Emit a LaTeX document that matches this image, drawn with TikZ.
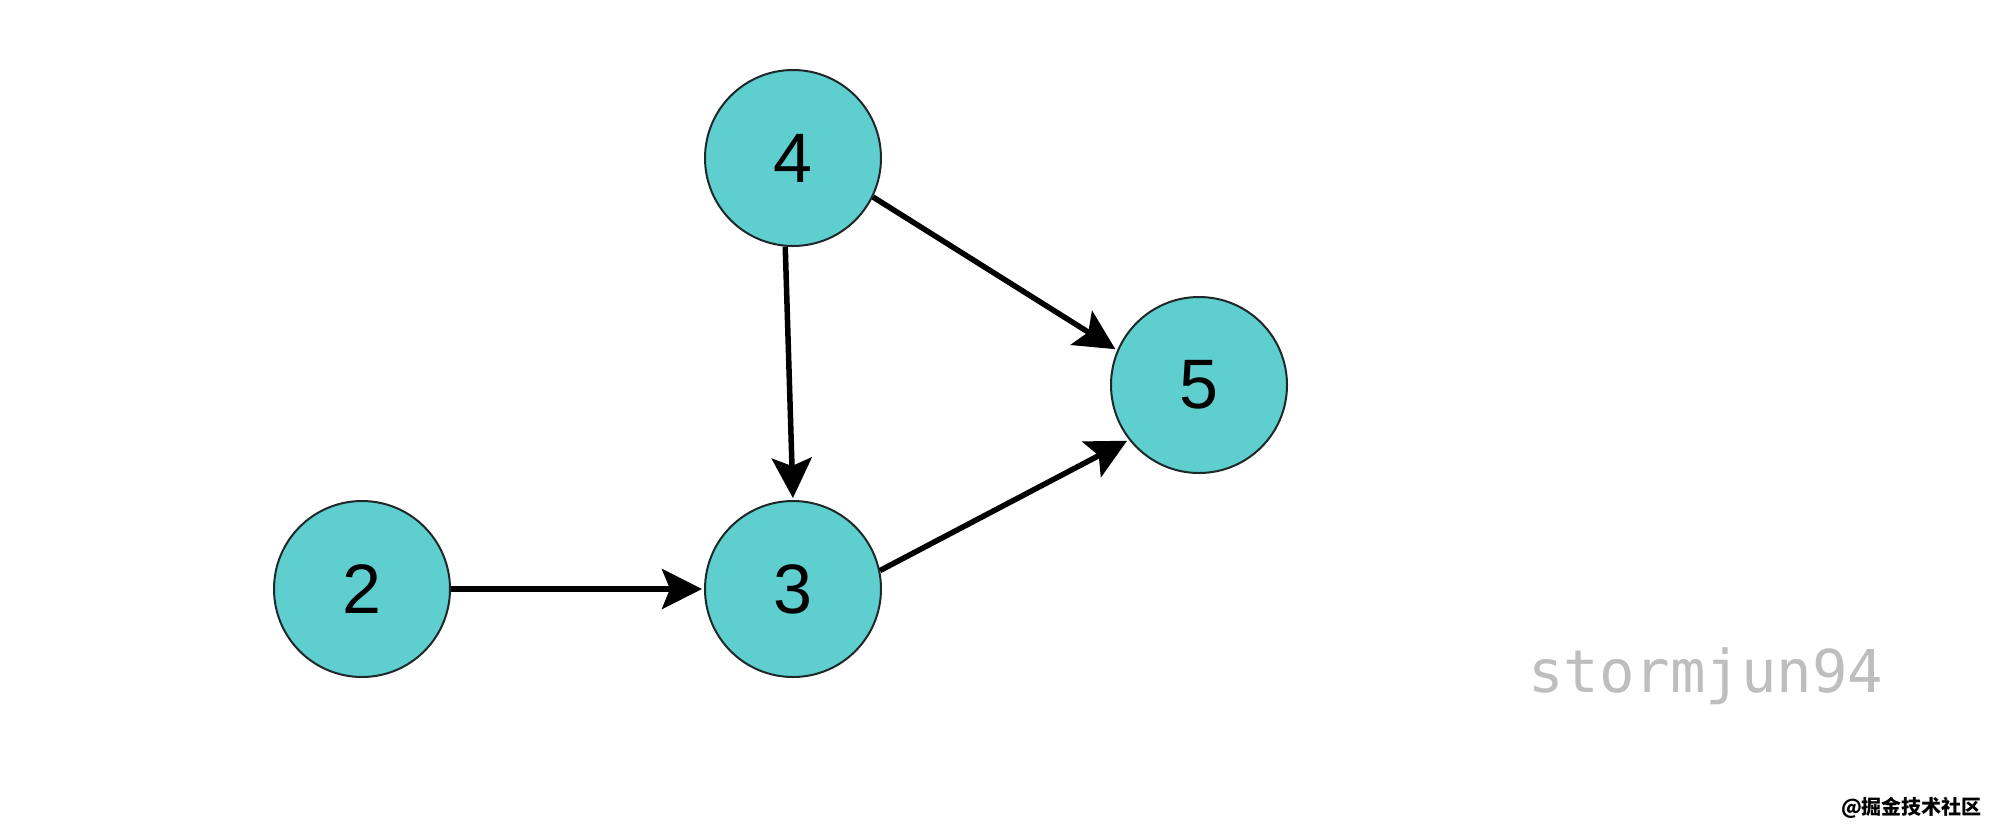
\documentclass[tikz,border=0pt]{standalone}
\usepackage{fontspec}
\setmainfont{Liberation Sans}
\newfontfamily\wmfont{DejaVu Sans Mono}
\newfontfamily\cjkfont{Noto Sans CJK SC}
\usetikzlibrary{arrows.meta}
\definecolor{nodefill}{RGB}{94,206,206}
\definecolor{nodeline}{RGB}{30,40,40}
\definecolor{wmgray}{RGB}{190,190,190}
\tikzset{
  vertex/.style={circle, draw=nodeline, line width=2pt, fill=nodefill,
    minimum size=176pt, inner sep=0pt, font=\fontsize{70}{70}\selectfont},
  edge/.style={line width=5.5pt, -{Stealth[length=40pt, width=40pt, inset=8pt]}, shorten >=2pt}
}
\begin{document}
\begin{tikzpicture}[x=1pt, y=-1pt]
\useasboundingbox (0,0) rectangle (2000,831);
\fill[white] (0,0) rectangle (2000,831);
\node[vertex] (n4) at (793,158) {4};
\node[vertex] (n5) at (1199,385) {5};
\node[vertex] (n3) at (793,589) {3};
\node[vertex] (n2) at (362,589) {2};
\draw[edge] (n2.east) -- (n3.west);
\draw[edge] (n4.265) -- (n3.north);
\draw[edge] (n4.-26) -- (n5.157.5);
\draw[edge] (n3.12) -- (n5.218);
\node[anchor=base west, inner sep=0pt, text=wmgray, font=\wmfont\fontsize{59}{59}\selectfont] (wm) at (1528,692) {stormjun94};
\node[anchor=east, inner sep=0pt, text=black, font=\cjkfont\bfseries\fontsize{20}{20}\selectfont] (jj) at (1982,808) {@掘金技术社区};
\end{tikzpicture}
\end{document}
